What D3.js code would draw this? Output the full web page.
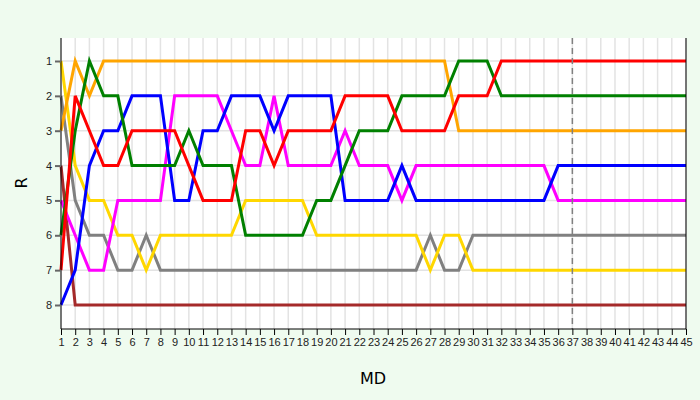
<!DOCTYPE html>
<html><head><meta charset="utf-8">
<script src="https://cdn.jsdelivr.net/npm/d3@7"></script>
<style>body{margin:0;background:#effbef;font-family:"DejaVu Sans",sans-serif}</style>
</head><body><svg id="chart" width="700" height="400"></svg>
<script>
// rank per matchday 1..45
const red     = [7,2,3,4,4,3,3,3,3,4,5,5,5,3,3,4,3,3,3,3,2,2,2,2,3,3,3,3,2,2,2,1,1,1,1,1,1,1,1,1,1,1,1,1,1];
const green   = [6,3,1,2,2,4,4,4,4,3,4,4,4,6,6,6,6,6,5,5,4,3,3,3,2,2,2,2,1,1,1,2,2,2,2,2,2,2,2,2,2,2,2,2,2];
const orange  = [3,1,2,1,1,1,1,1,1,1,1,1,1,1,1,1,1,1,1,1,1,1,1,1,1,1,1,1,3,3,3,3,3,3,3,3,3,3,3,3,3,3,3,3,3];
const blue    = [8,7,4,3,3,2,2,2,5,5,3,3,2,2,2,3,2,2,2,2,5,5,5,5,4,5,5,5,5,5,5,5,5,5,5,4,4,4,4,4,4,4,4,4,4];
const magenta = [5,6,7,7,5,5,5,5,2,2,2,2,3,4,4,2,4,4,4,4,3,4,4,4,5,4,4,4,4,4,4,4,4,4,4,5,5,5,5,5,5,5,5,5,5];
const gray    = [2,5,6,6,7,7,6,7,7,7,7,7,7,7,7,7,7,7,7,7,7,7,7,7,7,7,6,7,7,6,6,6,6,6,6,6,6,6,6,6,6,6,6,6,6];
const yellow  = [1,4,5,5,6,6,7,6,6,6,6,6,6,5,5,5,5,5,6,6,6,6,6,6,6,6,7,6,6,7,7,7,7,7,7,7,7,7,7,7,7,7,7,7,7];
const brown   = [4,8,8,8,8,8,8,8,8,8,8,8,8,8,8,8,8,8,8,8,8,8,8,8,8,8,8,8,8,8,8,8,8,8,8,8,8,8,8,8,8,8,8,8,8];
const series = [
  {c:"#a52a2a", v:brown}, {c:"gray", v:gray}, {c:"gold", v:yellow}, {c:"magenta", v:magenta},
  {c:"blue", v:blue}, {c:"orange", v:orange}, {c:"green", v:green}, {c:"red", v:red}
];
const matchdays = d3.range(1, 46);
const ranks = d3.range(1, 9);
const markerMD = 37;

const svg = d3.select("#chart");
const m = {l:61, r:686, t:38, b:329};
const x = d3.scaleLinear().domain([1,45]).range([m.l, m.r]);
const y = d3.scaleLinear().domain([1,8]).range([61, 305]);

svg.append("rect").attr("x", m.l).attr("y", m.t).attr("width", m.r-m.l).attr("height", m.b-m.t).attr("fill", "white");

svg.append("g").selectAll("line").data(matchdays).join("line")
  .attr("x1", d => x(d)).attr("x2", d => x(d)).attr("y1", m.t).attr("y2", m.b)
  .attr("stroke", "#e3e3e3").attr("stroke-width", 1.5);
svg.append("g").selectAll("line").data(ranks).join("line")
  .attr("x1", m.l).attr("x2", m.r).attr("y1", d => y(d)).attr("y2", d => y(d))
  .attr("stroke", "#e3e3e3").attr("stroke-width", 1.5);

const line = d3.line().x((d, i) => x(i+1)).y(d => y(d));
svg.append("g").selectAll("path").data(series).join("path")
  .attr("d", d => line(d.v)).attr("fill", "none").attr("stroke", d => d.c).attr("stroke-width", 3);

svg.append("line").attr("x1", x(markerMD)).attr("x2", x(markerMD)).attr("y1", m.t).attr("y2", m.b)
  .attr("stroke", "gray").attr("stroke-width", 1.5).attr("stroke-dasharray", "6,4");

const xa = svg.append("g").attr("transform", `translate(0,${m.b})`)
  .call(d3.axisBottom(x).tickValues(matchdays).tickFormat(d3.format("d")).tickSizeOuter(0));
const ya = svg.append("g").attr("transform", `translate(${m.l},0)`)
  .call(d3.axisLeft(y).tickValues(ranks).tickFormat(d3.format("d")).tickSizeOuter(0));
[xa, ya].forEach(a => { a.selectAll("text").attr("font-size", 11).attr("fill", "#222"); a.select(".domain").attr("stroke", "black"); });
ya.selectAll(".tick line").attr("stroke", "#666").attr("stroke-width", 2).attr("x2", -6);
ya.select(".domain").attr("d", `M0,${m.t}V${m.b}`);
xa.select(".domain").attr("d", `M${m.l},0H${m.r}`);
svg.append("line").attr("x1", m.r).attr("x2", m.r).attr("y1", m.t).attr("y2", m.b).attr("stroke", "black");

svg.append("text").attr("x", 373).attr("y", 384).attr("text-anchor", "middle").attr("font-size", 16).text("MD");
svg.append("text").attr("transform", "translate(27,183) rotate(-90)").attr("text-anchor", "middle").attr("font-size", 16).text("R");
</script></body></html>
